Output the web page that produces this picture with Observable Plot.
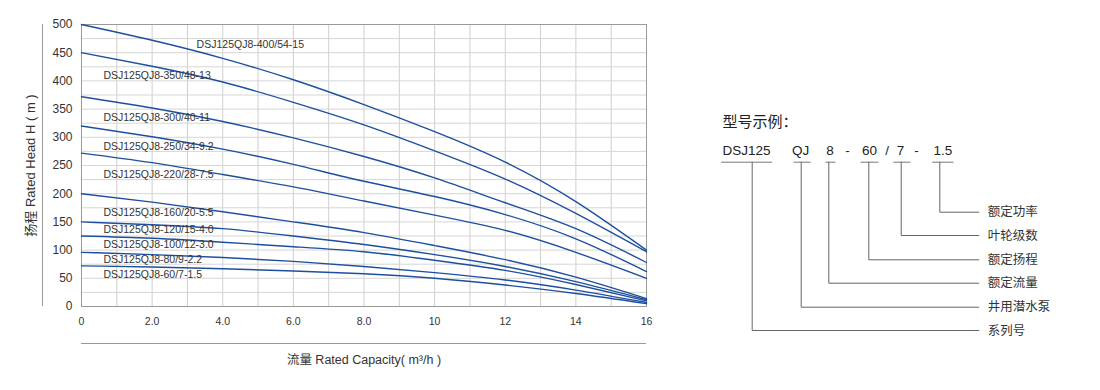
<!DOCTYPE html>
<html><head><meta charset="utf-8">
<script src="https://cdn.jsdelivr.net/npm/d3@7"></script>
<script src="https://cdn.jsdelivr.net/npm/@observablehq/plot@0.6"></script>
<style>
body{margin:0;background:#fff;}
#wrap{position:relative;width:1100px;height:390px;overflow:hidden;background:#fff;}
#chart{position:absolute;left:0;top:0;}
#diagram{position:absolute;left:690px;top:0;}
svg{background:transparent !important;}
</style></head><body><div id="wrap"><div id="chart"></div><div id="diagram"></div></div>
<script>
// ---------- data ----------
const flow = [0, 2, 4, 6, 8, 10, 12, 14, 16];
const models = [
  "DSJ125QJ8-400/54-15", "DSJ125QJ8-350/48-13", "DSJ125QJ8-300/40-11",
  "DSJ125QJ8-250/34-9.2", "DSJ125QJ8-220/28-7.5", "DSJ125QJ8-160/20-5.5",
  "DSJ125QJ8-120/15-4.0", "DSJ125QJ8-100/12-3.0", "DSJ125QJ8-80/9-2.2",
  "DSJ125QJ8-60/7-1.5"
];
const head400 = [500, 472, 440, 402, 358, 310, 256, 186, 100];
const head350 = [450, 426, 398, 362, 322, 276, 226, 165, 97];
const head300 = [372, 352, 328, 299, 266, 228, 184, 138, 78];
const head250 = [320, 301, 279, 252, 222, 195, 163, 120, 62];
const head220 = [272, 255, 234, 212, 187, 162, 135, 96, 50];
const head160 = [200, 185, 168, 150, 131, 108, 83, 52, 14];
const head120 = [150, 145, 138, 125, 110, 92, 71, 44, 12];
const head100 = [125, 121, 114, 106, 97, 82, 64, 39, 10];
const head80  = [96, 92, 87, 80, 71, 60, 47, 29, 7];
const head60  = [72, 70, 67, 63, 58, 50, 38, 23, 5];
const heads = [head400, head350, head300, head250, head220, head160, head120, head100, head80, head60];
// label anchor (in data units: flow, head)
const labelFlow = [3.26, 0.62, 0.62, 0.62, 0.62, 0.62, 0.62, 0.62, 0.62, 0.62];
const labelHead = [464, 410, 335, 284, 234, 167, 136, 110, 83, 57];
const xTicks = [0, 2, 4, 6, 8, 10, 12, 14, 16];
const xTickLabels = ["0", "2.0", "4.0", "6.0", "8.0", "10", "12", "14", "16"];
const yTicks = [0, 50, 100, 150, 200, 250, 300, 350, 400, 450, 500];
const yTitle = "扬程 Rated Head H ( m )";
const xTitle = "流量 Rated Capacity( m³/h )";

// diagram texts
const diagramTitle = "型号示例：";
const codeParts = ["DSJ125", "QJ", "8", "-", "60", "/", "7", "-", "1.5"];
const codeMeanings = ["系列号", "井用潜水泵", "额定流量", "额定扬程", "叶轮级数", "额定功率"];

// ---------- main chart ----------
const rows = [];
models.forEach((m, i) => flow.forEach((q, j) => rows.push({model: m, q, h: heads[i][j]})));

const font = "'Liberation Sans', Arial, 'Noto Sans CJK SC', sans-serif";
const chart = Plot.plot({
  width: 690, height: 390,
  marginLeft: 81, marginRight: 44, marginTop: 24, marginBottom: 84,
  x: {domain: [0, 16], label: null},
  y: {domain: [0, 500], label: null},
  style: {fontFamily: font, background: "transparent"},
  marks: [
    Plot.gridX(d3.range(0, 17), {stroke: "#cfcfcf", strokeOpacity: 1}),
    Plot.gridY(d3.range(0, 501, 25), {stroke: "#d6d6d6", strokeOpacity: 1}),
    Plot.frame({stroke: "#9a9a9a"}),
    Plot.axisX(xTicks, {tickSize: 0, tickPadding: 11, label: null, fontSize: 10.5, fill: "#333",
      tickFormat: (d) => xTickLabels[xTicks.indexOf(d)]}),
    Plot.axisY(yTicks, {tickSize: 0, tickPadding: 9, label: null, fontSize: 12, fill: "#333"}),
    Plot.line(rows, {x: "q", y: "h", z: "model", stroke: "#1d4f9f", strokeWidth: 1.4, curve: "natural"}),
    Plot.text(models, {x: (d, i) => labelFlow[i], y: (d, i) => labelHead[i], text: (d) => d,
      textAnchor: "start", fontSize: 10.5, fill: "#333"}),
    Plot.ruleX([0], {dx: -39, stroke: "#999"}),
    Plot.ruleY([0], {dy: 37, stroke: "#999"}),
    Plot.text([yTitle], {frameAnchor: "left", textAnchor: "middle", dx: -51, rotate: -90, fontSize: 13, fill: "#333"}),
    Plot.text([xTitle], {frameAnchor: "bottom", dy: 57, fontSize: 12.5, fill: "#333"})
  ]
});
document.getElementById("chart").append(chart);

// ---------- model code diagram (layout in local pixels) ----------
const partX = [56, 110, 139.5, 157, 179, 196.7, 210, 226, 252.5];
const codeY = 150;
const underlineY = 161.7;
const underlined = [0, 1, 2, 4, 6, 8]; // indexes of codeParts with meanings
const underlineSpan = [[30.7, 81.7], [103, 120], [135, 145], [170, 188], [203, 220], [241.7, 263]];
const connectorX = [61.7, 110.7, 138.3, 178.3, 210.7, 249.3];
const levelY = [330, 306.7, 282.7, 259.3, 235, 211.7];
const lineEndX = 288.3;
const meaningX = 297.3;

const underRows = underlined.map((p, k) => ({x1: underlineSpan[k][0], x2: underlineSpan[k][1], y: underlineY}));
const pathRows = [];
underlined.forEach((p, k) => {
  pathRows.push({k, x: connectorX[k], y: underlineY});
  pathRows.push({k, x: connectorX[k], y: levelY[k]});
  pathRows.push({k, x: lineEndX, y: levelY[k]});
});

const diagram = Plot.plot({
  width: 410, height: 390,
  margin: 0,
  x: {type: "identity"}, y: {type: "identity"},
  axis: null,
  style: {fontFamily: font, background: "transparent"},
  marks: [
    Plot.text([diagramTitle], {x: 32, y: 121.7, textAnchor: "start", fontSize: 15, fill: "#222",
      fontFamily: "'Noto Sans CJK SC', sans-serif"}),
    Plot.text(codeParts, {x: (d, i) => partX[i], y: codeY, text: (d) => d, fontSize: 13.5, fill: "#222",
      letterSpacing: "0.5px"}),
    Plot.link(underRows, {x1: "x1", x2: "x2", y1: "y", y2: "y", stroke: "#777", strokeWidth: 1}),
    Plot.line(pathRows, {x: "x", y: "y", z: "k", stroke: "#666", strokeWidth: 1}),
    Plot.text(codeMeanings, {x: meaningX, y: (d, i) => levelY[i], text: (d) => d, textAnchor: "start",
      fontSize: 12.5, fill: "#333", fontFamily: "'Noto Sans CJK SC', sans-serif"})
  ]
});
document.getElementById("diagram").append(diagram);
</script>
</body></html>
